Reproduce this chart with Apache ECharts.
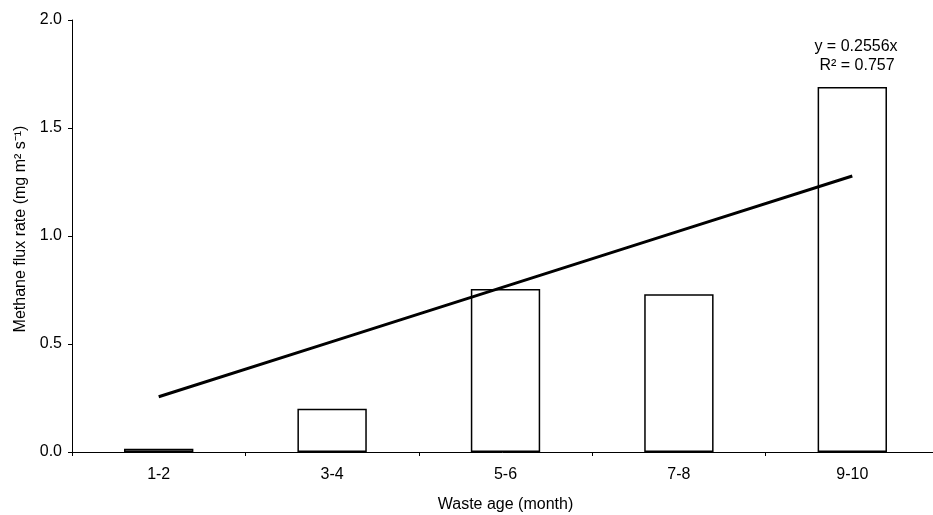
<!DOCTYPE html>
<html>
<head>
<meta charset="utf-8">
<script src="https://cdn.jsdelivr.net/npm/echarts@6/dist/echarts.min.js"></script>
<style>
  html, body { margin: 0; padding: 0; background: #fff; overflow: hidden; }
  #chart { width: 933px; height: 515px; }
</style>
</head>
<body>
<div id="chart"></div>
<script>
// Waste age classes and measured methane flux
const categories = ['1-2', '3-4', '5-6', '7-8', '9-10'];
const fluxRate = [0.015, 0.20, 0.755, 0.73, 1.69];
// Linear fit through the origin: y = 0.2556x, evaluated at x = 1..5
const trendValues = [0.2556, 0.5112, 0.7668, 1.0224, 1.278];
const yTicks = [0, 0.5, 1.0, 1.5, 2.0];
const fitEquation = 'y = 0.2556x';
const fitR2 = 'R² = 0.757';

const font = 'Arial, "Liberation Sans", sans-serif';
const chart = echarts.init(document.getElementById('chart'));

chart.setOption({
  animation: false,
  backgroundColor: '#ffffff',
  textStyle: { fontFamily: font, color: '#000' },
  // plot area runs slightly past the right edge of the canvas
  grid: { left: 72, width: 867, top: 20, bottom: 63, outerBoundsMode: 'none', containLabel: false },
  xAxis: {
    type: 'category',
    data: categories,
    name: 'Waste age (month)',
    nameLocation: 'middle',
    nameGap: 45,
    nameTextStyle: { fontFamily: font, fontSize: 16, color: '#000' },
    axisLine: { lineStyle: { color: '#000', width: 1 } },
    axisTick: { show: true, length: 4, lineStyle: { color: '#000' } },
    axisLabel: { fontFamily: font, fontSize: 16, color: '#000', margin: 15 },
    splitLine: { show: false }
  },
  yAxis: {
    type: 'value',
    min: yTicks[0],
    max: yTicks[yTicks.length - 1],
    interval: yTicks[1] - yTicks[0],
    name: 'Methane flux rate (mg m² s⁻¹)',
    nameLocation: 'middle',
    nameGap: 40,
    nameTextStyle: { fontFamily: font, fontSize: 16, color: '#000', padding: [0, 0, 0, 14] },
    axisLine: { show: true, lineStyle: { color: '#000', width: 1 } },
    axisTick: { show: true, length: 4, lineStyle: { color: '#000' } },
    axisLabel: {
      fontFamily: font, fontSize: 16, color: '#000', margin: 10,
      formatter: v => v.toFixed(1)
    },
    splitLine: { show: false }
  },
  series: [
    {
      type: 'bar',
      data: fluxRate,
      barWidth: '40%',
      itemStyle: { color: '#ffffff', borderColor: '#000', borderWidth: 1.5 },
      z: 2
    },
    {
      type: 'line',
      data: trendValues,
      symbol: 'none',
      lineStyle: { color: '#000', width: 3 },
      z: 3
    }
  ],
  graphic: [
    {
      type: 'text', x: 856, y: 39,
      style: { text: fitEquation, font: '16px ' + font, fill: '#000', align: 'center', verticalAlign: 'top' }
    },
    {
      type: 'text', x: 857, y: 58,
      style: { text: fitR2, font: '16px ' + font, fill: '#000', align: 'center', verticalAlign: 'top' }
    }
  ]
});
</script>
</body>
</html>
